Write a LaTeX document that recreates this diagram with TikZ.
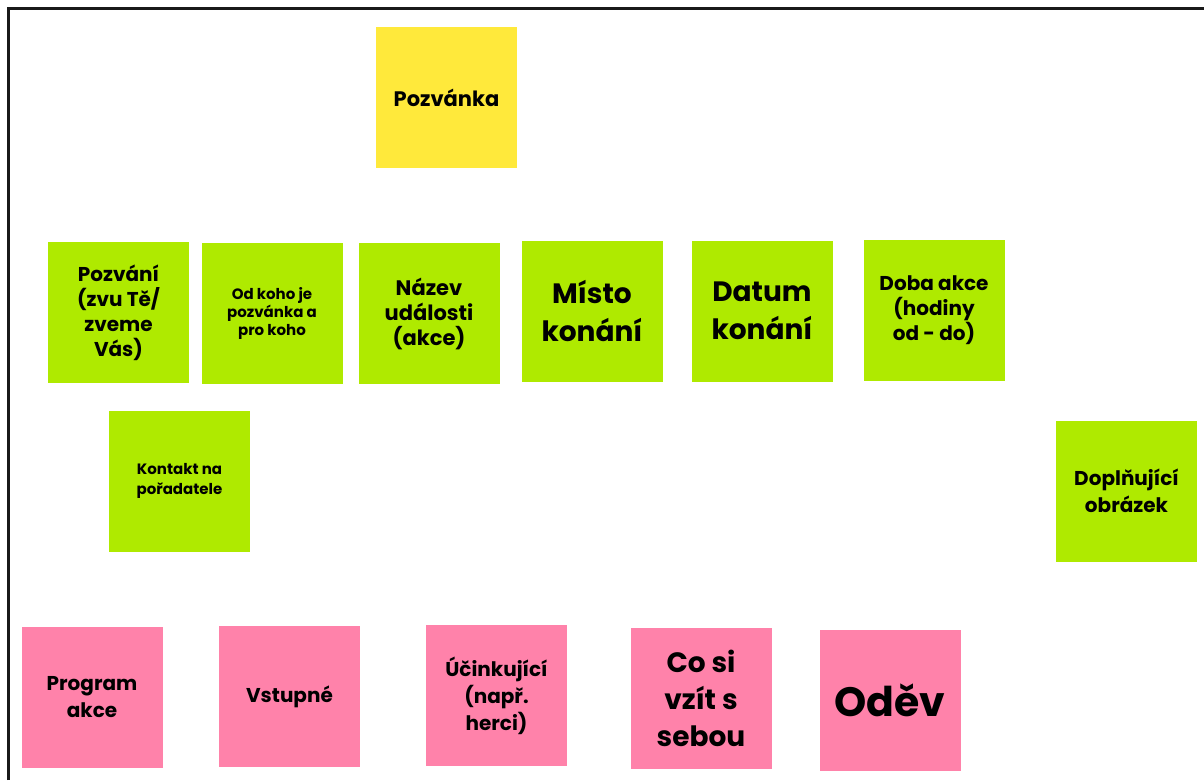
\documentclass[tikz,border=0pt]{standalone}
\usepackage{fontspec}
\setmainfont{Poppins}
\usepackage{xcolor}
\usepackage{tikz}
\usetikzlibrary{positioning}

\definecolor{notegreen}{HTML}{AFEA00}
\definecolor{noteyellow}{HTML}{FFE93B}
\definecolor{notepink}{HTML}{FF82AA}

\begin{document}
\begin{tikzpicture}[x=1pt, y=-1pt,
  every text node part/.style={align=center},
  note/.style={minimum width=141pt, minimum height=141pt, inner sep=0pt, font=\bfseries\fontsize{20}{25}\selectfont},
  greennote/.style={note, fill=notegreen},
  yellownote/.style={note, fill=noteyellow},
  pinknote/.style={note, fill=notepink}]
\useasboundingbox (0,0) rectangle (1204,780);
\fill[white] (0,0) rectangle (1204,780);
\draw[line width=3.5pt, black!90] (8.5,780) -- (8.5,8.5) -- (1204,8.5);

\node (pozvanka) [yellownote, font=\bfseries\fontsize{21}{25}\selectfont] at (446.5,97.5) {Pozvánka};

\node (pozvani) [greennote] at (118.5,312.5) {Pozvání\\(zvu Tě/\\zveme\\Vás)};
\node (od koho) [greennote, font=\bfseries\fontsize{15}{18}\selectfont] at (272,313.5) {Od koho je\\pozvánka a\\pro koho};
\node (nazev) [greennote, font=\bfseries\fontsize{21}{25}\selectfont] at (429,313.5) {Název\\události\\(akce)};
\node (misto) [greennote, font=\bfseries\fontsize{28}{38}\selectfont] at (592,311) {Místo\\konání};
\node (datum) [greennote, font=\bfseries\fontsize{28}{38}\selectfont] at (762,311) {Datum\\konání};
\node (doba) [greennote] at (934,310) {Doba akce\\(hodiny\\od - do)};
\node (kontakt) [greennote, font=\bfseries\fontsize{15}{20}\selectfont] at (179.5,481) {Kontakt na\\pořadatele};
\node (doplnujici) [greennote, font=\bfseries\fontsize{20}{27}\selectfont] at (1126.5,491) {Doplňující\\obrázek};

\node (program) [pinknote, font=\bfseries\fontsize{20}{27}\selectfont] at (92,697) {Program\\akce};
\node (vstupne) [pinknote] at (289.5,696.5) {Vstupné};
\node (ucinkujici) [pinknote, font=\bfseries\fontsize{20}{27}\selectfont] at (496.5,695.5) {Účinkující\\(např.\\herci)};
\node (co si) [pinknote, font=\bfseries\fontsize{28}{37}\selectfont] at (701,698.5) {Co si\\vzít s\\sebou};
\node (odev) [pinknote, font=\bfseries\fontsize{41}{44}\selectfont] at (890,700.5) {Oděv};

\end{tikzpicture}
\end{document}
